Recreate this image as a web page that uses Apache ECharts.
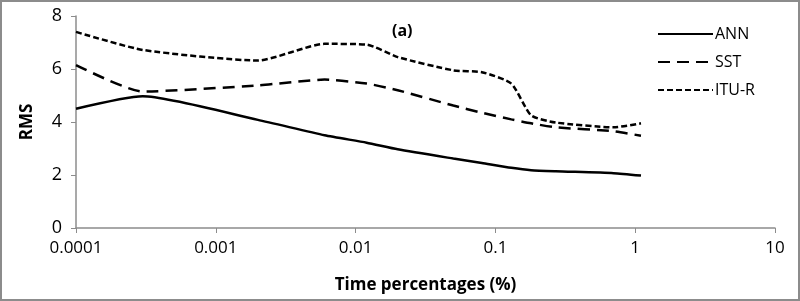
<!DOCTYPE html>
<html>
<head>
<meta charset="utf-8">
<script src="https://cdn.jsdelivr.net/npm/echarts@6/dist/echarts.min.js"></script>
<style>
  html, body { margin: 0; padding: 0; background: #fff; }
  #chart {
    width: 800px;
    height: 301px;
    box-sizing: border-box;
    border: 2px solid #8c8c8c;
  }
</style>
</head>
<body>
<div id="chart"></div>
<script>
// time percentages (%) shared by all three curves
const timePct = [0.0001, 0.0003, 0.002, 0.006, 0.012, 0.02, 0.05, 0.08, 0.13, 0.18, 0.27, 0.7, 1.1];
const annRms  = [4.5, 4.97, 4.08, 3.5, 3.22, 2.97, 2.62, 2.45, 2.27, 2.18, 2.14, 2.07, 1.98];
const sstRms  = [6.15, 5.15, 5.38, 5.6, 5.45, 5.2, 4.62, 4.35, 4.1, 3.95, 3.8, 3.65, 3.48];
const ituRms  = [7.4, 6.72, 6.32, 6.95, 6.92, 6.45, 5.95, 5.88, 5.45, 4.25, 3.98, 3.8, 3.95];
const seriesNames = ['ANN', 'SST', 'ITU-R'];

const font = '"Open Sans", "Liberation Sans", sans-serif';
const pairs = vals => timePct.map((t, i) => [t, vals[i]]);

const chart = echarts.init(document.getElementById('chart'));

const mkLine = (name, vals, dash) => ({
  name: name,
  type: 'line',
  data: pairs(vals),
  smooth: 0.2,
  showSymbol: false,
  symbol: 'none',
  itemStyle: { color: '#000' },
  lineStyle: { color: '#000', width: 2.5, type: dash }
});

chart.setOption({
  animation: false,
  textStyle: { fontFamily: font },
  title: {
    text: '(a)',
    left: 385,
    top: 16,
    textStyle: { fontFamily: font, fontSize: 16, fontWeight: 'bold', color: '#000' }
  },
  legend: {
    data: seriesNames,
    orient: 'vertical',
    left: 650,
    top: 19,
    itemWidth: 55,
    itemHeight: 12,
    itemGap: 12,
    itemStyle: { opacity: 0 },
    textStyle: { fontFamily: font, fontSize: 16, color: '#000', padding: [0, 0, 0, -3] }
  },
  grid: { left: 74, right: 23, top: 14, bottom: 70 },
  xAxis: {
    type: 'log',
    logBase: 10,
    min: 0.0001,
    max: 10,
    name: 'Time percentages (%)',
    nameLocation: 'middle',
    nameGap: 49,
    nameTextStyle: { fontFamily: font, fontSize: 17, fontWeight: 'bold', color: '#000' },
    axisLine: { lineStyle: { color: '#8c8c8c', width: 1.5 } },
    axisTick: { show: true, length: 5, lineStyle: { color: '#8c8c8c' } },
    minorTick: { show: false },
    splitLine: { show: false },
    axisLabel: {
      fontFamily: font, fontSize: 17, color: '#000', margin: 12,
      formatter: v => String(+(+v).toPrecision(6))
    }
  },
  yAxis: {
    type: 'value',
    min: 0,
    max: 8,
    interval: 2,
    name: 'RMS',
    nameLocation: 'middle',
    nameGap: 40,
    nameTextStyle: { fontFamily: font, fontSize: 17, fontWeight: 'bold', color: '#000' },
    axisLine: { show: true, lineStyle: { color: '#8c8c8c', width: 1.5 } },
    axisTick: { show: true, length: 5, lineStyle: { color: '#8c8c8c' } },
    splitLine: { show: false },
    axisLabel: { fontFamily: font, fontSize: 18, color: '#000', margin: 14 }
  },
  series: [
    mkLine(seriesNames[0], annRms, 'solid'),
    mkLine(seriesNames[1], sstRms, [12, 7]),
    mkLine(seriesNames[2], ituRms, [6, 3])
  ]
});
</script>
</body>
</html>
